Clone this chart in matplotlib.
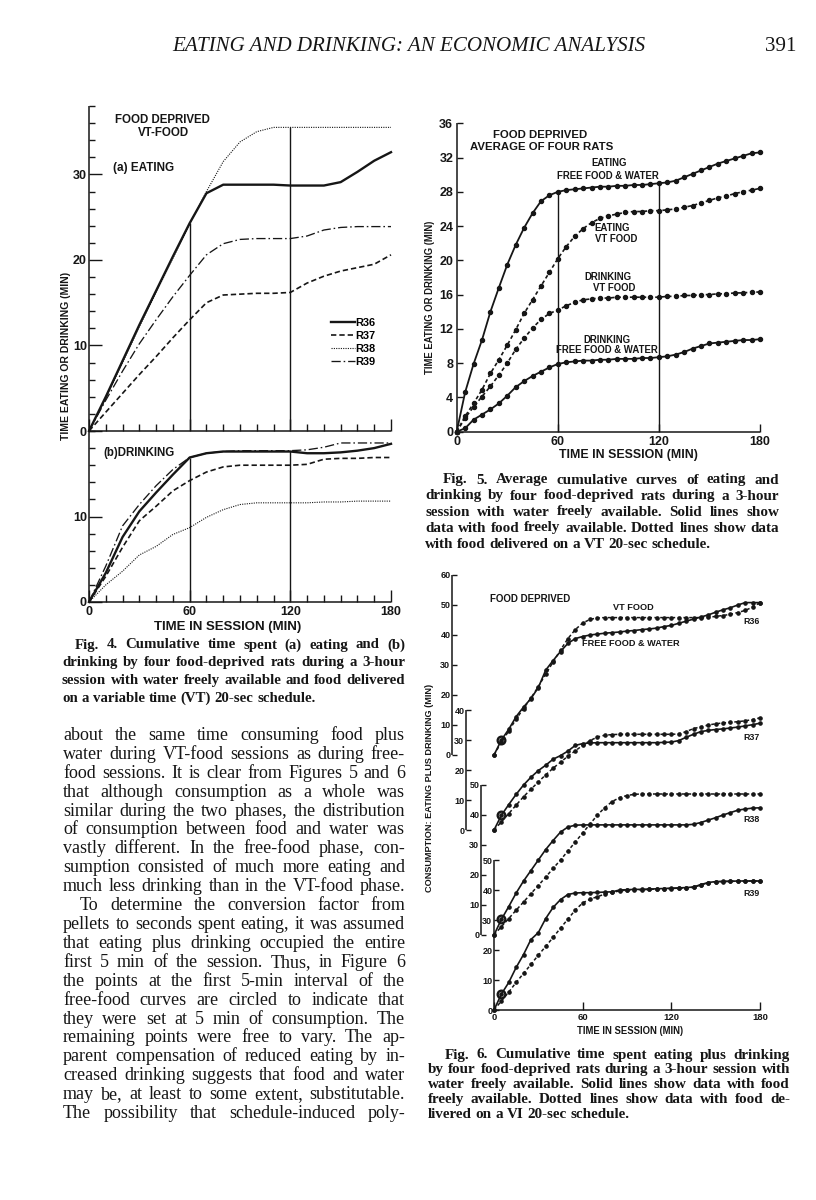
import numpy as np
import matplotlib
matplotlib.use("Agg")
import matplotlib.pyplot as plt
from matplotlib.transforms import IdentityTransform

# ------------------------------------------------------------------ DATA
# Fig. 4  (individual rats, VT-food sessions); minutes in session
fig4_minutes = [0, 10, 20, 30, 40, 50, 60, 70, 80, 90, 100, 110, 120, 130, 140, 150, 160, 170, 180]
fig4_eat_r36 = [0, 4.0, 8.2, 12.4, 16.4, 20.4, 24.3, 27.8, 28.8, 28.8, 28.8, 28.8, 28.7, 28.7, 28.7, 29.1, 30.3, 31.6, 32.6]
fig4_eat_r37 = [0, 2.2, 4.4, 6.6, 8.7, 10.9, 13.0, 15.0, 15.9, 16.0, 16.1, 16.1, 16.2, 17.3, 18.1, 18.7, 19.1, 19.5, 20.6]
fig4_eat_r38 = [0, 3.8, 8.0, 12.2, 16.2, 20.2, 24.2, 28.0, 31.5, 33.8, 35.0, 35.5, 35.5, 35.5, 35.5, 35.5, 35.5, 35.5, 35.5]
fig4_eat_r39 = [0, 3.6, 7.0, 10.2, 13.0, 15.7, 18.2, 20.6, 21.9, 22.4, 22.5, 22.5, 22.5, 22.8, 23.5, 23.8, 23.9, 23.9, 23.9]
fig4_drink_r36 = [0, 3.4, 7.6, 10.6, 12.8, 14.9, 16.9, 17.4, 17.6, 17.6, 17.6, 17.6, 17.6, 17.4, 17.4, 17.5, 17.7, 18.0, 18.5]
fig4_drink_r37 = [0, 3.0, 6.4, 9.5, 11.2, 13.0, 14.2, 15.2, 15.8, 16.0, 16.0, 16.0, 16.0, 16.1, 16.7, 16.8, 16.8, 16.9, 16.9]
fig4_drink_r38 = [0, 2.0, 3.6, 5.5, 6.5, 7.9, 8.7, 9.9, 10.8, 11.4, 11.6, 11.6, 11.6, 11.6, 11.7, 11.7, 11.8, 11.8, 11.8]
fig4_drink_r39 = [0, 4.2, 8.9, 11.4, 13.6, 15.5, 16.9, 17.4, 17.6, 17.7, 17.7, 17.7, 17.7, 17.8, 18.1, 18.6, 18.6, 18.6, 18.6]
fig4_rats = ["R36", "R37", "R38", "R39"]
fig4_phase_marks = [60, 120]
fig4_yticks_a = [0, 10, 20, 30]
fig4_yticks_b = [0, 10]
fig4_xticks = [0, 60, 120, 180]

# Fig. 5  (average of four rats); 5-min points
fig5_minutes = list(range(0, 181, 5))
fig5_eat_free = [0, 4.6, 7.9, 10.7, 14.0, 16.8, 19.5, 21.8, 23.8, 25.5,
                 26.9, 27.6, 28.0, 28.2, 28.3, 28.4, 28.5, 28.6, 28.6, 28.7,
                 28.7, 28.8, 28.8, 28.9, 29.0, 29.1, 29.3, 29.7, 30.1, 30.5,
                 30.9, 31.3, 31.6, 31.9, 32.2, 32.5, 32.6]
fig5_eat_vt = [0, 1.8, 3.3, 4.9, 6.8, 8.4, 10.1, 11.9, 13.8, 15.4,
               17.0, 18.6, 20.2, 21.6, 22.8, 23.7, 24.4, 24.9, 25.2, 25.4,
               25.6, 25.7, 25.7, 25.8, 25.8, 25.9, 26.0, 26.2, 26.4, 26.7,
               27.0, 27.3, 27.5, 27.8, 28.0, 28.2, 28.4]
fig5_drink_vt = [0, 1.6, 2.9, 4.1, 5.3, 6.6, 8.0, 9.6, 10.9, 12.1,
                 13.1, 13.8, 14.2, 14.7, 15.1, 15.4, 15.5, 15.6, 15.6, 15.7,
                 15.7, 15.7, 15.7, 15.7, 15.7, 15.8, 15.8, 15.9, 15.9, 16.0,
                 16.0, 16.1, 16.1, 16.2, 16.2, 16.3, 16.3]
fig5_drink_free = [0, 0.4, 1.4, 2.0, 2.6, 3.3, 4.2, 5.2, 5.9, 6.5,
                   7.0, 7.5, 7.9, 8.1, 8.2, 8.3, 8.3, 8.4, 8.4, 8.5,
                   8.5, 8.5, 8.6, 8.6, 8.7, 8.8, 9.0, 9.3, 9.7, 10.0,
                   10.3, 10.4, 10.5, 10.6, 10.7, 10.7, 10.8]
fig5_yticks = [0, 4, 8, 12, 16, 20, 24, 28, 32, 36]
fig5_xticks = [0, 60, 120, 180]

# Fig. 6  (eating plus drinking, each rat); 5-min points
fig6_minutes = list(range(0, 181, 5))
fig6_r36_free = [0, 5.0, 8.6, 12.8, 16.0, 18.8, 22.5, 28.3, 31.5, 34.5,
                 37.2, 38.8, 39.5, 40.0, 40.3, 40.6, 40.8, 41.0, 41.3, 41.5,
                 41.8, 42.0, 42.3, 42.8, 43.2, 43.9, 44.6, 45.3, 46.0, 46.7,
                 47.6, 48.4, 49.1, 50.0, 50.8, 50.8, 50.8]
fig6_r36_vt = [0, 4.3, 8.0, 12.0, 15.5, 19.0, 22.8, 27.0, 31.0, 35.0,
               38.8, 41.8, 44.0, 45.2, 45.7, 45.8, 45.8, 45.8, 45.8, 45.8,
               45.8, 45.8, 45.8, 45.8, 45.8, 45.8, 45.8, 45.8, 45.8, 45.9,
               46.2, 46.5, 46.9, 47.5, 48.2, 49.3, 50.8]
fig6_r37_free = [0, 4.9, 8.5, 11.9, 15.0, 17.6, 19.8, 21.6, 23.6, 24.8,
                 26.3, 28.2, 28.8, 29.0, 29.1, 29.1, 29.1, 29.1, 29.1, 29.1,
                 29.1, 29.1, 29.1, 29.2, 29.3, 29.8, 30.9, 31.9, 32.8, 33.2,
                 33.5, 33.7, 34.0, 34.3, 34.7, 35.1, 35.6]
fig6_r37_vt = [0, 2.7, 5.5, 8.3, 11.1, 13.6, 16.0, 18.4, 20.6, 22.6,
               24.6, 26.4, 28.2, 29.8, 31.0, 31.6, 31.8, 31.9, 31.9, 31.9,
               31.9, 31.9, 31.9, 31.9, 31.9, 32.0, 32.8, 33.8, 34.4, 35.0,
               35.4, 35.7, 35.9, 36.1, 36.4, 36.8, 37.4]
fig6_r38_free = [0, 5.2, 9.5, 14.0, 18.0, 21.5, 25.0, 28.5, 31.5, 34.3,
                 36.0, 36.6, 36.7, 36.7, 36.7, 36.7, 36.7, 36.7, 36.7, 36.7,
                 36.7, 36.7, 36.7, 36.7, 36.7, 36.7, 36.7, 36.9, 37.5, 38.3,
                 39.1, 40.0, 40.8, 41.6, 42.0, 42.3, 42.4]
fig6_r38_vt = [0, 2.8, 5.5, 8.3, 11.0, 13.8, 16.5, 19.3, 22.2, 25.0,
               28.0, 31.0, 34.0, 37.0, 40.0, 42.5, 44.5, 45.8, 46.5, 46.9,
               47.0, 47.0, 47.0, 47.0, 47.0, 47.0, 47.0, 47.0, 47.0, 47.0,
               47.0, 47.0, 47.0, 47.0, 47.0, 47.0, 47.0]
fig6_r39_free = [0, 5.3, 9.2, 14.2, 18.5, 23.5, 25.8, 30.5, 34.2, 36.8,
                 38.5, 39.0, 39.1, 39.1, 39.2, 39.3, 39.4, 40.0, 40.1, 40.2,
                 40.2, 40.3, 40.4, 40.5, 40.6, 40.7, 40.8, 41.0, 41.8, 42.5,
                 42.8, 42.9, 42.9, 43.0, 43.0, 43.0, 43.0]
fig6_r39_vt = [0, 3.0, 6.0, 9.2, 12.2, 15.2, 18.3, 21.2, 24.2, 27.3,
               30.3, 33.3, 35.7, 36.9, 37.8, 38.6, 39.2, 39.7, 40.0, 40.1,
               40.1, 40.2, 40.3, 40.4, 40.5, 40.6, 40.7, 40.9, 41.7, 42.4,
               42.7, 42.8, 42.9, 42.9, 43.0, 43.0, 43.0]
fig6_rats = ["R36", "R37", "R38", "R39"]
fig6_axis_max = [60, 40, 50, 50]
fig6_xticks = [0, 60, 120, 180]

# Page text
header_title = "EATING AND DRINKING: AN ECONOMIC ANALYSIS"
page_number = "391"
body_lines = [
    "about the same time consuming food plus",
    "water during VT-food sessions as during free-",
    "food sessions. It is clear from Figures 5 and 6",
    "that although consumption as a whole was",
    "similar during the two phases, the distribution",
    "of consumption between food and water was",
    "vastly different. In the free-food phase, con-",
    "sumption consisted of much more eating and",
    "much less drinking than in the VT-food phase.",
    "To determine the conversion factor from",
    "pellets to seconds spent eating, it was assumed",
    "that eating plus drinking occupied the entire",
    "first 5 min of the session. Thus, in Figure 6",
    "the points at the first 5-min interval of the",
    "free-food curves are circled to indicate that",
    "they were set at 5 min of consumption. The",
    "remaining points were free to vary. The ap-",
    "parent compensation of reduced eating by in-",
    "creased drinking suggests that food and water",
    "may be, at least to some extent, substitutable.",
    "The possibility that schedule-induced poly-",
]
cap4_lines = [
    "Fig. 4. Cumulative time spent (a) eating and (b)",
    "drinking by four food-deprived rats during a 3-hour",
    "session with water freely available and food delivered",
    "on a variable time (VT) 20-sec schedule.",
]
cap5_lines = [
    "Fig. 5. Average cumulative curves of eating and",
    "drinking by four food-deprived rats during a 3-hour",
    "session with water freely available. Solid lines show",
    "data with food freely available. Dotted lines show data",
    "with food delivered on a VT 20-sec schedule.",
]
cap6_lines = [
    "Fig. 6. Cumulative time spent eating plus drinking",
    "by four food-deprived rats during a 3-hour session with",
    "water freely available. Solid lines show data with food",
    "freely available. Dotted lines show data with food de-",
    "livered on a VI 20-sec schedule.",
]

# ------------------------------------------------------------------ LAYOUT / STYLE
W, H = 816, 1200
INK = "#161616"
SANS = "Liberation Sans"
SERIF = "Liberation Serif"
plt.rcParams["font.family"] = [SANS, "DejaVu Sans"]
plt.rcParams["font.weight"] = "bold"

fig = plt.figure(figsize=(W / 100, H / 100), dpi=100)
fig.patch.set_facecolor("white")
ID = IdentityTransform()


def rect(x0, ytop, x1, ybot):
    return [x0 / W, 1 - ybot / H, (x1 - x0) / W, (ybot - ytop) / H]


def style_axes(ax, left=True, bottom=True):
    ax.set_facecolor("none")
    ax.spines["top"].set_visible(False)
    ax.spines["right"].set_visible(False)
    ax.spines["left"].set_visible(left)
    ax.spines["bottom"].set_visible(bottom)
    for s in ("left", "bottom"):
        ax.spines[s].set_linewidth(1.1)
        ax.spines[s].set_color(INK)
        ax.spines[s].set_capstyle("butt")
    ax.tick_params(which="both", direction="in", color=INK, width=1.0,
                   labelcolor=INK)


def px_text(x, y, s, **kw):
    kw.setdefault("color", INK)
    return fig.text(x, H - y, s, transform=ID, **kw)


renderer = fig.canvas.get_renderer()


def width_of(s, **kw):
    t = fig.text(0, 0, s, transform=ID, **kw)
    w = t.get_window_extent(renderer=renderer).width
    t.remove()
    return w


def fitted(s, target, **kw):
    return 10 * target / width_of(s, size=10, **kw)


def paragraph(lines, x0, x1, base0, step, size, ragged, indents, **kw):
    worst = 0
    for i, line in enumerate(lines):
        if ragged[i]:
            continue
        worst = max(worst, width_of(line, size=size, **kw) / (x1 - x0 - indents[i]))
    if worst > 0.985:
        size = size * 0.985 / worst
    sp = width_of("n n", size=size, **kw) - width_of("nn", size=size, **kw)
    for i, line in enumerate(lines):
        words = line.split()
        ws = [width_of(w, size=size, **kw) for w in words]
        left = x0 + indents[i]
        if ragged[i] or len(words) < 2:
            gap = sp
        else:
            gap = (x1 - left - sum(ws)) / (len(words) - 1)
        x = left
        for w, wd in zip(words, ws):
            px_text(x, base0 + i * step, w, size=size, ha="left",
                    va="baseline", **kw)
            x += wd + gap


# ------------------------------------------------------------------ FIG. 4
fig4_styles = [dict(ls="-", lw=1.7),
               dict(ls=(0, (3.2, 1.8)), lw=1.2),
               dict(ls=(0, (1, 1.1)), lw=0.8),
               dict(ls=(0, (7, 2.2, 1.2, 2.2)), lw=0.95)]

axA = fig.add_axes(rect(89, 106, 391, 431))
axB = fig.add_axes(rect(89, 431, 391, 602))
for ax, ymax, yt in ((axA, 38, fig4_yticks_a), (axB, 20, fig4_yticks_b)):
    style_axes(ax)
    ax.set_xlim(0, 180)
    ax.set_ylim(0, ymax)
    ax.set_yticks(yt)
    ax.set_yticklabels([str(v) for v in yt])
    ax.set_yticks(np.arange(0, ymax + 1, 2), minor=True)
    ax.set_xticks(fig4_xticks)
    ax.set_xticks(np.arange(0, 181, 10), minor=True)
    ax.tick_params(axis="y", which="major", length=9.5, pad=1.5, labelsize=9)
    ax.tick_params(axis="y", which="minor", length=4.3)
    ax.tick_params(axis="x", which="major", length=8.6, pad=3.2, labelsize=9)
    ax.tick_params(axis="x", which="minor", length=5.2)
axA.set_xticklabels([])
axB.set_xticklabels([str(v) for v in fig4_xticks])

eat_series = [fig4_eat_r36, fig4_eat_r37, fig4_eat_r38, fig4_eat_r39]
drink_series = [fig4_drink_r36, fig4_drink_r37, fig4_drink_r38, fig4_drink_r39]
handles = []
for name, st, ye, yd in zip(fig4_rats, fig4_styles, eat_series, drink_series):
    h, = axA.plot(fig4_minutes, ye, color=INK, label=name, clip_on=False,
                  solid_joinstyle="round", **st)
    axB.plot(fig4_minutes, yd, color=INK, clip_on=False,
             solid_joinstyle="round", **st)
    handles.append(h)
for ax, series in ((axA, eat_series), (axB, drink_series)):
    for m in fig4_phase_marks:
        top = max(np.interp(m, fig4_minutes, s) for s in series)
        ax.vlines(m, 0, top, color=INK, lw=1.0)

axA.legend(handles=handles, loc="upper left",
           bbox_to_anchor=(331 / W, 1 - 318 / H), bbox_transform=fig.transFigure,
           frameon=False, prop=dict(family=SANS, weight="bold", size=7.9),
           handlelength=2.2, handletextpad=0.05, labelspacing=0.28,
           borderpad=0, borderaxespad=0)

px_text(115, 120, "FOOD DEPRIVED", size=8.3, ha="left", va="center")
px_text(163, 133, "VT-FOOD", size=8.3, ha="center", va="center")
px_text(113, 168, "(a) EATING", size=8.5, ha="left", va="center")
px_text(103, 453, "(b)DRINKING", size=8.3, ha="left", va="center")
lab4y = "TIME EATING OR DRINKING (MIN)"
px_text(66, 356, lab4y, size=fitted(lab4y, 167), rotation=90,
        ha="center", va="center")
lab_x = "TIME IN SESSION (MIN)"
px_text(228, 627, lab_x, size=fitted(lab_x, 147), ha="center", va="center")

# ------------------------------------------------------------------ FIG. 5
ax5 = fig.add_axes(rect(456.7, 123.3, 760, 431.7))
style_axes(ax5)
ax5.set_xlim(0, 180)
ax5.set_ylim(0, 36)
ax5.set_yticks(fig5_yticks)
ax5.set_yticklabels([str(v) for v in fig5_yticks])
ax5.set_xticks(fig5_xticks)
ax5.set_xticklabels([str(v) for v in fig5_xticks])
ax5.tick_params(axis="y", length=4.5, pad=2.5, labelsize=9)
ax5.tick_params(axis="x", length=6.0, pad=3.4, labelsize=9)

solid5 = dict(ls="-", lw=1.3, marker="o", ms=2.9)
dot5 = dict(ls=(0, (2.2, 1.6)), lw=1.2, marker="o", ms=2.9)
for ys, st in ((fig5_eat_free, solid5), (fig5_eat_vt, dot5),
               (fig5_drink_vt, dot5), (fig5_drink_free, solid5)):
    ax5.plot(fig5_minutes, ys, color=INK, mfc=INK, mec=INK, clip_on=False, **st)
for m in fig4_phase_marks:
    top = max(np.interp(m, fig5_minutes, s) for s in
              (fig5_eat_free, fig5_eat_vt, fig5_drink_vt, fig5_drink_free))
    ax5.vlines(m, 0, top, color=INK, lw=1.0)

px_text(493, 135, "FOOD DEPRIVED", size=8.2, ha="left", va="center")
px_text(470, 147, "AVERAGE OF FOUR RATS", size=8.2, ha="left", va="center")
for (x, y, s) in ((609, 163, "EATING"), (608, 176, "FREE FOOD & WATER"),
                  (612, 228, "EATING"), (616, 239, "VT FOOD"),
                  (608, 277, "DRINKING"), (614, 288, "VT FOOD"),
                  (607, 340, "DRINKING"), (607, 350, "FREE FOOD & WATER")):
    px_text(x, y, s, size=6.9, ha="center", va="center")
px_text(430, 297, lab4y, size=fitted(lab4y, 153), rotation=90,
        ha="center", va="center")
px_text(628, 455, lab_x, size=fitted(lab_x, 137), ha="center", va="center")

# ------------------------------------------------------------------ FIG. 6
F6_BASE, F6_PX = 1010, 3.0           # baseline pixel row, pixels per minute
F6_TOP = 145                          # stacked height in data units
f6_offsets = [85, 60, 25, 0]          # vertical offsets of the four records
f6_spine_x = [452, 466, 481, 494]     # x pixel of each record's own axis

ax6 = fig.add_axes(rect(494, F6_BASE - F6_PX * F6_TOP, 760, F6_BASE))
style_axes(ax6, left=False)
ax6.set_xlim(0, 180)
ax6.set_ylim(0, F6_TOP)
ax6.set_yticks([])
ax6.set_xticks(fig6_xticks)
ax6.set_xticklabels([str(v) for v in fig6_xticks])
ax6.tick_params(axis="x", length=5.8, pad=1.8, labelsize=6.8)

for name, top, off, sx in zip(fig6_rats, fig6_axis_max, f6_offsets, f6_spine_x):
    sub = fig.add_axes(rect(sx, F6_BASE - F6_PX * (off + top), sx + 12,
                            F6_BASE - F6_PX * off))
    style_axes(sub, bottom=False)
    sub.set_ylim(0, top)
    sub.set_xticks([])
    yt = list(range(0, top + 1, 10))
    sub.set_yticks(yt)
    sub.set_yticklabels([str(v) for v in yt])
    sub.tick_params(axis="y", length=3.6, pad=1.2, labelsize=6.5)
    sub.patch.set_visible(False)

f6_free = [fig6_r36_free, fig6_r37_free, fig6_r38_free, fig6_r39_free]
f6_vt = [fig6_r36_vt, fig6_r37_vt, fig6_r38_vt, fig6_r39_vt]
solid6 = dict(ls="-", lw=1.2, marker="o", ms=2.3)
dot6 = dict(ls=(0, (2.2, 1.6)), lw=1.1, marker="o", ms=2.3)
for off, yf, yv in zip(f6_offsets, f6_free, f6_vt):
    ax6.plot(fig6_minutes, np.asarray(yv) + off, color=INK, mfc=INK, mec=INK,
             clip_on=False, **dot6)
    ax6.plot(fig6_minutes, np.asarray(yf) + off, color=INK, mfc=INK, mec=INK,
             clip_on=False, **solid6)
    ax6.plot(fig6_minutes[1], yf[1] + off, marker="o", ms=5.5, mfc="none",
             mec=INK, mew=1.7, ls="none", clip_on=False)

px_text(490, 599, "FOOD DEPRIVED", size=7.0, ha="left", va="center")
px_text(633, 608, "VT FOOD", size=6.6, ha="center", va="center")
px_text(631, 644, "FREE FOOD & WATER", size=6.6, ha="center", va="center")
for (y, s) in ((622, "R36"), (737, "R37"), (820, "R38"), (893, "R39")):
    px_text(760, y, s, size=6.4, ha="right", va="center")
lab6y = "CONSUMPTION: EATING PLUS DRINKING (MIN)"
px_text(429, 788, lab6y, size=fitted(lab6y, 208), rotation=90,
        ha="center", va="center")
px_text(630, 1031, lab_x, size=fitted(lab_x, 106), ha="center", va="center")

# ------------------------------------------------------------------ PAGE TEXT
hdr_kw = dict(family=SERIF, style="italic", weight="normal")
px_text(172, 51, header_title, size=fitted(header_title, 473, **hdr_kw),
        ha="left", va="baseline", **hdr_kw)
px_text(796, 51, page_number, size=fitted(header_title, 473, **hdr_kw),
        ha="right", va="baseline", family=SERIF, weight="normal")

body_kw = dict(family=SERIF, weight="normal")
paragraph(body_lines, 63, 405, 740, 18.9, 13.0,
          [False] * len(body_lines),
          [17 if i == 9 else 0 for i in range(len(body_lines))], **body_kw)

cap_kw = dict(family=SERIF, weight="bold")
paragraph(cap4_lines, 62, 405, 648.5, 17.8, 11.0,
          [False, False, False, True], [13, 0, 0, 0], **cap_kw)
paragraph(cap5_lines, 425, 779, 483.5, 16.0, 11.0,
          [False, False, False, False, True], [18, 0, 0, 0, 0], **cap_kw)
paragraph(cap6_lines, 428, 790, 1058.5, 14.8, 11.0,
          [False, False, False, False, True], [17, 0, 0, 0, 0], **cap_kw)

fig.savefig("out.png", dpi=100, facecolor="white")
